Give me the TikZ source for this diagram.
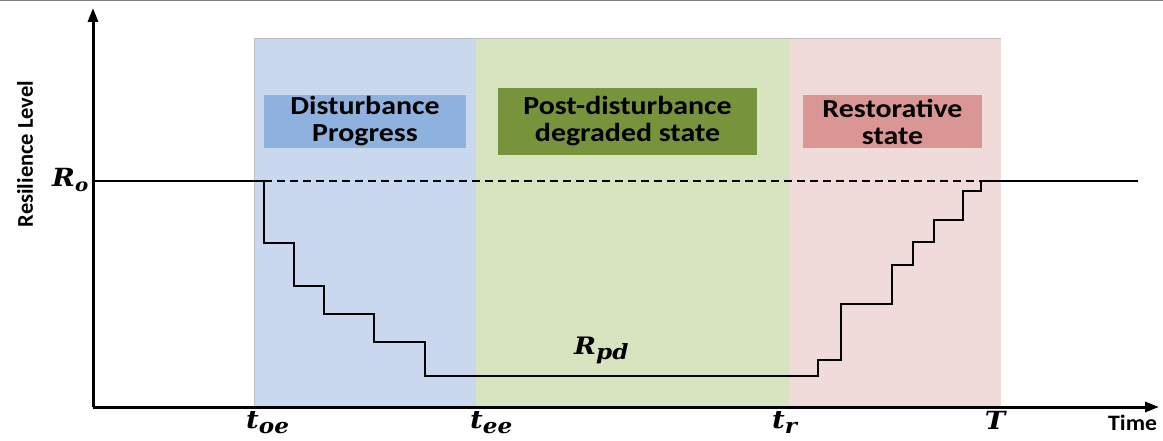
\documentclass[tikz,border=0pt]{standalone}
\usepackage{fontspec}
\usepackage{graphicx}
\usetikzlibrary{arrows.meta}
\newfontfamily\carlito{Carlito}
\newfontfamily\symfont{DejaVu Serif}
% widen text a little, as in the original artwork
\newcommand{\wide}[1]{\scalebox{1.15}[1]{#1}}
% bold italic symbol with a lowered index: \sym{main size}{sub size}{letter}{index}
\newcommand{\sym}[4]{\scalebox{1.1}[1]{\symfont\bfseries\itshape
  \fontsize{#1}{#1}\selectfont #3\raisebox{-5pt}{\fontsize{#2}{#2}\selectfont #4}}}
\definecolor{bandblue}{HTML}{C9D8EF}
\definecolor{bandgreen}{HTML}{D8E4C0}
\definecolor{bandpink}{HTML}{F1DADA}
\definecolor{boxblue}{HTML}{8EB1DD}
\definecolor{boxgreen}{HTML}{77933C}
\definecolor{boxpink}{HTML}{D99694}
\tikzset{
  axisline/.style={line width=3pt, -{Triangle[length=14pt,width=10pt]}},
  curve/.style={line width=1.8pt, line join=miter},
  refline/.style={line width=1.5pt, dash pattern=on 8pt off 5pt},
  phasebox/.style={inner sep=0pt, align=center, text=black,
    font=\carlito\bfseries\fontsize{26}{27}\selectfont},
  symlabel/.style={inner sep=0pt},
  axistitle/.style={inner sep=0pt, font=\carlito\bfseries\fontsize{22}{22}\selectfont},
}
\begin{document}
\begin{tikzpicture}[x=1pt,y=-1pt]
\useasboundingbox (0,0) rectangle (1163,441);
\draw[gray, line width=1pt] (0,0.5) -- (1163,0.5);

% phase bands
\fill[bandblue]  (254,38) rectangle (476,407);
\fill[bandgreen] (476,38) rectangle (789,407);
\fill[bandpink]  (789,38) rectangle (1001,407);
\draw[black!25, line width=0.8pt] (254,407) -- (254,38) -- (1001,38);

% phase titles
\node[phasebox, fill=boxblue, minimum width=202pt, minimum height=53pt] (pdist) at (365,121.5)
  {\wide{Disturbance}\\\wide{Progress}};
\node[phasebox, fill=boxgreen, minimum width=259pt, minimum height=67pt] (ppost) at (627.5,121.5)
  {\wide{Post-disturbance}\\\wide{degraded state}};
\node[phasebox, fill=boxpink, minimum width=179pt, minimum height=53pt] (prest) at (892.5,121.5)
  {\wide{Restorative}\\\wide{state}};

% axes
\coordinate (origin) at (93,407);
\coordinate (ytip) at (93,8);
\coordinate (xtip) at (1159,407);
\draw[axisline] (origin) -- (ytip);
\draw[axisline] (origin) -- (xtip);

% resilience trajectory
\coordinate (start) at (93,181);
\coordinate (fin) at (1138,181);
\draw[refline] (264,181) -- (981,181);
\draw[curve] (start) -- (264,181) -- (264,243) -- (294,243) -- (294,286) -- (324,286)
  -- (324,314) -- (374,314) -- (374,342) -- (425,342) -- (425,376) -- (818,376)
  -- (818,360) -- (841,360) -- (841,304) -- (892,304) -- (892,265) -- (913,265)
  -- (913,242) -- (934,242) -- (934,220) -- (963,220) -- (963,191) -- (981,191)
  -- (981,181) -- (fin);

% labels
\node[symlabel, anchor=base west] (lro) at (52,187) {\sym{25}{18}{R}{o}};
\node[symlabel, anchor=base west] (lrpd) at (574,354) {\sym{24}{21}{R}{pd}};
\node[symlabel, anchor=base west] (ltoe) at (246,428) {\sym{25}{21}{t}{oe}};
\node[symlabel, anchor=base west] (ltee) at (470,428) {\sym{25}{21}{t}{ee}};
\node[symlabel, anchor=base west] (ltr) at (772,428) {\sym{25}{21}{t}{r}};
\node[symlabel, anchor=base] (lT) at (995,429) {\sym{25}{21}{T}{}};
\node[axistitle, anchor=base west] (ltime) at (1108,430) {\scalebox{1.08}[1]{Time}};
\node[axistitle, rotate=90, font=\carlito\bfseries\fontsize{22.5}{23}\selectfont] (lres) at (25,154)
  {Resilience Level};
\end{tikzpicture}
\end{document}
